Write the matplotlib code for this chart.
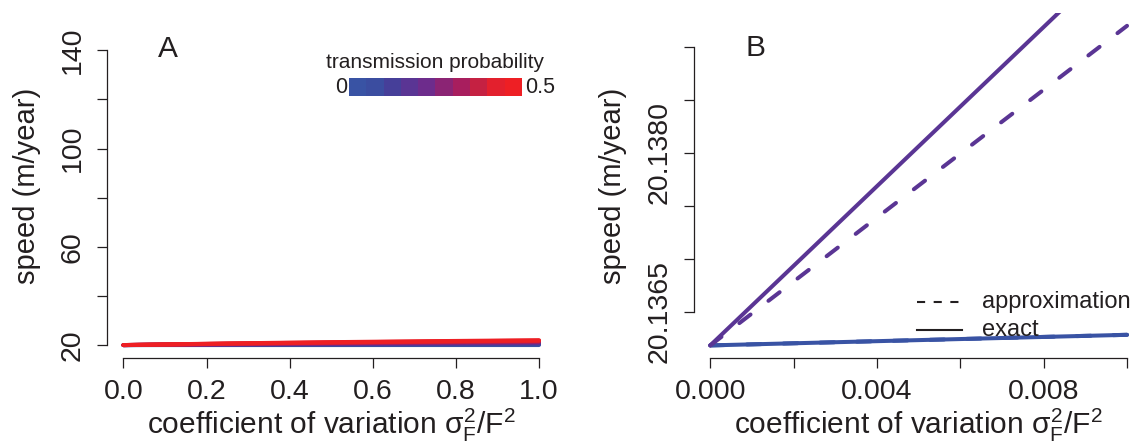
import matplotlib
matplotlib.use('Agg')
import matplotlib.pyplot as plt
from matplotlib.colors import ListedColormap
from matplotlib.lines import Line2D
import numpy as np

plt.rcParams['font.family'] = ['Liberation Sans', 'DejaVu Sans']
plt.rcParams['mathtext.fontset'] = 'custom'
plt.rcParams['mathtext.rm'] = 'Liberation Sans'
plt.rcParams['mathtext.it'] = 'Liberation Sans'
plt.rcParams['mathtext.bf'] = 'Liberation Sans:bold'

INK = '#231f20'
W, H = 1136, 446

# transmission probabilities and the blue -> red ramp used for them
trans_prob = [0.000, 0.056, 0.111, 0.167, 0.222, 0.278, 0.333, 0.389, 0.444, 0.500]
ramp = ['#3953A4', '#3B4DA0', '#463F99', '#5A3594', '#6D2C8C',
        '#8B2474', '#A81E5E', '#C52142', '#E3202D', '#EE1F24']

# panel A: speed against coefficient of variation, one row per probability
cv_a = [0.0, 0.25, 0.5, 0.75, 1.0]
speed_a = [
    [20.14, 20.14, 20.14, 20.15, 20.15],
    [20.14, 20.22, 20.30, 20.38, 20.45],
    [20.14, 20.30, 20.45, 20.60, 20.75],
    [20.14, 20.38, 20.60, 20.80, 21.00],
    [20.14, 20.45, 20.72, 20.97, 21.20],
    [20.14, 20.52, 20.85, 21.13, 21.40],
    [20.14, 20.60, 20.97, 21.30, 21.60],
    [20.14, 20.67, 21.10, 21.46, 21.80],
    [20.14, 20.73, 21.20, 21.60, 21.95],
    [20.14, 20.80, 21.32, 21.74, 22.10],
]

# panel B: close-up for p = 0 and p = 0.167, exact vs approximation
cv_b = [0.0, 0.0025, 0.005, 0.0075, 0.010]
exact_p0 = [20.13618, 20.136205, 20.13623, 20.136255, 20.13628]
approx_p0 = [20.13618, 20.136205, 20.13623, 20.136255, 20.13628]
exact_p3 = [20.13618, 20.137119, 20.138059, 20.138998, 20.139937]
approx_p3 = [20.13618, 20.136934, 20.137689, 20.138443, 20.139197]


def fig_xy(x, y):
    return x / W, 1 - y / H


def r_range(lo, hi):
    pad = 0.04 * (hi - lo)
    return lo - pad, hi + pad


def r_axes(left, right, top, bottom):
    return fig.add_axes([left / W, 1 - bottom / H, (right - left) / W, (bottom - top) / H])


def style_axes(ax, xticks, xlabels, yticks, ylabels):
    for side in ('top', 'right'):
        ax.spines[side].set_visible(False)
    for side in ('left', 'bottom'):
        ax.spines[side].set_linewidth(0.9)
        ax.spines[side].set_color(INK)
    ax.spines['bottom'].set_bounds(xticks[0], xticks[-1])
    ax.spines['left'].set_bounds(yticks[0], yticks[-1])
    ax.set_xticks(xticks)
    ax.set_xticklabels(xlabels)
    ax.set_yticks(yticks)
    ax.set_yticklabels(ylabels, rotation=90, va='center')
    ax.tick_params(direction='out', length=7.2, width=0.9, color=INK,
                   labelcolor=INK, labelsize=20.5, pad=8)
    ax.patch.set_visible(False)


fig = plt.figure(figsize=(W / 100, H / 100), dpi=100)

line_kw = dict(lw=2.9, solid_capstyle='round', dash_capstyle='round')

# ---- panel A
ax_a = r_axes(106.8, 555.6, 12.7, 358.2)
for row, col in zip(speed_a, ramp):
    ax_a.plot(cv_a, row, color=col, **line_kw)
ax_a.set_xlim(r_range(0, 1))
ax_a.set_ylim(r_range(20, 150))
style_axes(ax_a,
           [0.0, 0.2, 0.4, 0.6, 0.8, 1.0],
           ['0.0', '0.2', '0.4', '0.6', '0.8', '1.0'],
           [20, 40, 60, 80, 100, 120, 140],
           ['20', '', '60', '', '100', '', '140'])

# ---- panel B
ax_b = r_axes(693.6, 1143.7, 12.7, 358.2)
blue, purple = ramp[0], ramp[3]
ax_b.plot(cv_b, approx_p0, color=blue, dashes=(3.5, 5.6), **line_kw)
ax_b.plot(cv_b, exact_p0, color=blue, **line_kw)
ax_b.plot(cv_b, approx_p3, color=purple, dashes=(3.5, 5.6), **line_kw)
ax_b.plot(cv_b, exact_p3, color=purple, **line_kw)
ax_b.set_xlim(r_range(0, 0.010))
ax_b.set_ylim(r_range(20.13618, 20.13920))
style_axes(ax_b,
           [0.0, 0.002, 0.004, 0.006, 0.008, 0.010],
           ['0.000', '', '0.004', '', '0.008', ''],
           [20.1365, 20.1370, 20.1375, 20.1380, 20.1385, 20.1390],
           ['20.1365', '', '', '20.1380', '', ''])

# axis titles
xlab = r'coefficient of variation $\sigma_\mathrm{F}^2/\mathrm{F}^2$'
for cx, cy_lab in ((331.2, 27.2), (918.7, 613.4)):
    fig.text(*fig_xy(cx, 425), xlab, ha='center', va='center', fontsize=21.5, color=INK)
    fig.text(*fig_xy(cy_lab, 185.5), 'speed (m/year)', rotation=90,
             ha='center', va='center', fontsize=21, color=INK)

# panel letters
fig.text(*fig_xy(168, 49), 'A', ha='center', va='center', fontsize=21.5, color=INK)
fig.text(*fig_xy(755, 48), 'B', ha='center', va='center', fontsize=21.5, color=INK)

# colour key for transmission probability
key = r_axes(349.3, 521.7, 78.3, 96.0)
key.imshow(np.arange(len(ramp))[None, :], cmap=ListedColormap(ramp),
           aspect='auto', interpolation='nearest')
key.axis('off')
fig.text(*fig_xy(435.5, 62), 'transmission probability', ha='center', va='center',
         fontsize=15, color=INK)
fig.text(*fig_xy(347, 87.5), '0', ha='right', va='center', fontsize=15.5, color=INK)
fig.text(*fig_xy(525, 87.5), '0.5', ha='left', va='center', fontsize=15.5, color=INK)

# line-type legend in panel B
fig.add_artist(Line2D([916.7 / W, 961.7 / W], [1 - 302 / H] * 2, color=INK,
                      lw=1.5, dashes=(3.9, 4.1)))
fig.add_artist(Line2D([916.7 / W, 961.7 / W], [1 - 329.5 / H] * 2, color=INK, lw=1.5))
fig.text(*fig_xy(981.7, 302), 'approximation', ha='left', va='center',
         fontsize=17, color=INK)
fig.text(*fig_xy(981.7, 329.5), 'exact', ha='left', va='center',
         fontsize=17, color=INK)

fig.savefig('out.png', dpi=100)
